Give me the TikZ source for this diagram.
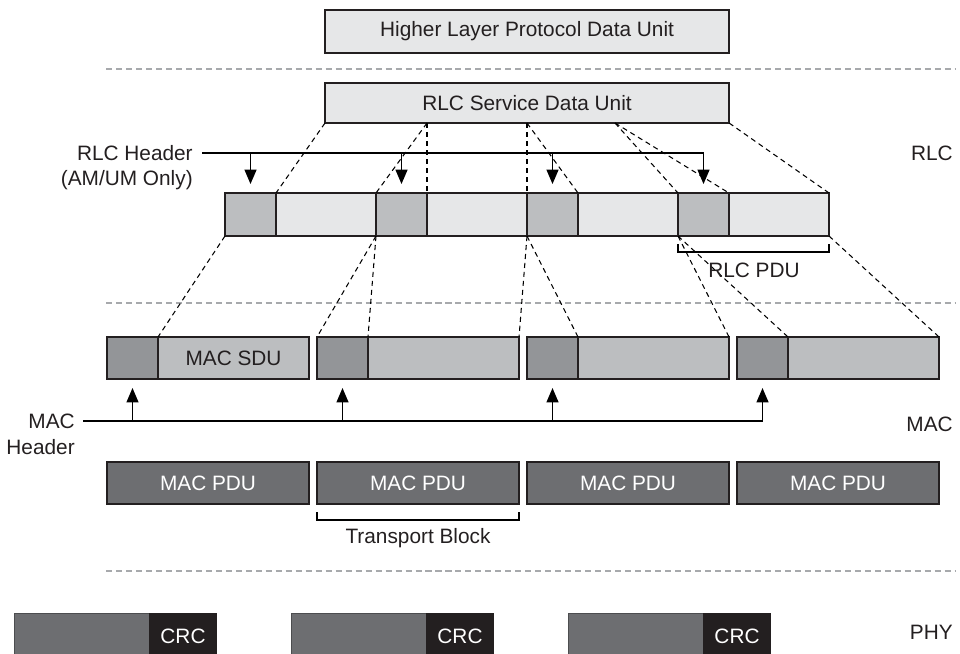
\documentclass[tikz,border=0pt]{standalone}
\usepackage{fontspec}
\setmainfont{Liberation Sans}
\usepackage{tikz}
\usetikzlibrary{arrows.meta,positioning}
\definecolor{rlclight}{HTML}{E6E7E8}
\definecolor{rlcmid}{HTML}{BCBEC0}
\definecolor{macdark}{HTML}{939598}
\definecolor{pdudark}{HTML}{6D6E71}
\definecolor{crcblack}{HTML}{231F20}
\definecolor{sepgray}{HTML}{A7A9AC}

\begin{document}
\begin{tikzpicture}[
  x=0.025cm, y=-0.025cm,
  >={Triangle[length=0.36cm,width=0.3cm]},
  every node/.style={font=\fontsize{14.8}{17.5}\selectfont, text=crcblack},
  blk/.style={draw=crcblack, line width=0.9pt, inner sep=0pt, outer sep=0pt, anchor=north west},
  topbox/.style={blk, fill=rlclight, minimum width=10.1cm},
  rlchead/.style={blk, fill=rlcmid, minimum width=1.275cm, minimum height=1.075cm},
  rlcdata/.style={blk, fill=rlclight, minimum width=2.5cm, minimum height=1.075cm},
  machead/.style={blk, fill=macdark, minimum width=1.275cm, minimum height=1.05cm},
  macdata/.style={blk, fill=rlcmid, minimum width=3.775cm, minimum height=1.05cm},
  pdubox/.style={blk, fill=pdudark, text=white, minimum width=5.05cm, minimum height=1.05cm},
  phybox/.style={blk, draw=pdudark!70!black, line width=0.4pt, fill=pdudark, minimum width=3.375cm, minimum height=1.175cm},
  crcbox/.style={blk, draw=none, fill=crcblack, text=white, minimum width=1.7cm, minimum height=1.175cm},
  layerlbl/.style={anchor=east, inner sep=0pt},
  layersep/.style={sepgray, line width=0.85pt, dash pattern=on 4.3pt off 2.8pt},
  mapline/.style={line width=0.75pt, dash pattern=on 3.6pt off 2.8pt},
  hdrline/.style={line width=0.9pt}
]
\useasboundingbox (0,0) rectangle (960,653);

% Layer separators
\draw[layersep] (106,69) -- (955,69);
\draw[layersep] (106,303) -- (955,303);
\draw[layersep] (106,571) -- (955,571);

% Higher layer and RLC SDU
\node[topbox, minimum height=1.075cm] (hlpdu) at (325,10) {Higher Layer Protocol Data Unit};
\node[topbox, minimum height=1.0cm] (sdu) at (325,83) {RLC Service Data Unit};
\coordinate (sdusplit) at (615,123);

% RLC PDUs
\node[rlchead] (rh1) at (225,193) {};
\node[rlcdata] (rd1) at (276,193) {};
\node[rlchead] (rh2) at (376,193) {};
\node[rlcdata] (rd2) at (427,193) {};
\node[rlchead] (rh3) at (527,193) {};
\node[rlcdata] (rd3) at (578,193) {};
\node[rlchead] (rh4) at (678,193) {};
\node[rlcdata] (rd4) at (729,193) {};

% MAC SDUs with headers
\node[machead] (mh1) at (107,337) {};
\node[macdata] (md1) at (158,337) {MAC SDU};
\node[machead] (mh2) at (317,337) {};
\node[macdata] (md2) at (368,337) {};
\node[machead] (mh3) at (527,337) {};
\node[macdata] (md3) at (578,337) {};
\node[machead] (mh4) at (737,337) {};
\node[macdata] (md4) at (788,337) {};

% MAC PDUs
\node[pdubox] (mp1) at (107,462) {MAC PDU};
\node[pdubox] (mp2) at (317,462) {MAC PDU};
\node[pdubox] (mp3) at (527,462) {MAC PDU};
\node[pdubox] (mp4) at (737,462) {MAC PDU};

% PHY blocks
\node[phybox] (py1) at (14,613) {};
\node[crcbox] (crc1) at (149,613) {CRC};
\node[phybox] (py2) at (291,613) {};
\node[crcbox] (crc2) at (426,613) {CRC};
\node[phybox] (py3) at (568,613) {};
\node[crcbox] (crc3) at (703,613) {CRC};

% Layer names
\node[layerlbl] (rlclbl) at (953,153) {RLC};
\node[layerlbl] (maclbl) at (953,424) {MAC};
\node[layerlbl] (phylbl) at (953,632) {PHY};

% Segmentation of the SDU
\draw[mapline] (sdu.south west) -- (rd1.north west);
\draw[mapline] (rd2.north west |- sdu.south) -- (rh2.north west);
\draw[mapline] (rd2.north west |- sdu.south) -- (rd2.north west);
\draw[mapline] (rh3.north west |- sdu.south) -- (rh3.north west);
\draw[mapline] (rh3.north west |- sdu.south) -- (rd3.north west);
\draw[mapline] (sdusplit) -- (rh4.north west);
\draw[mapline] (sdusplit) -- (rd4.north west);
\draw[mapline] (sdu.south east) -- (rd4.north east);

% RLC PDUs into MAC SDUs
\draw[mapline] (rh1.south west) -- (md1.north west);
\draw[mapline] (rh2.south west) -- (mh2.north west);
\draw[mapline] (rh2.south west) -- (md2.north west);
\draw[mapline] (rh3.south west) -- (md2.north east);
\draw[mapline] (rh3.south west) -- (md3.north west);
\draw[mapline] (rh4.south west) -- (md3.north east);
\draw[mapline] (rh4.south west) -- (md4.north west);
\draw[mapline] (rd4.south east) -- (md4.north east);

% RLC header arrows
\node[layerlbl, inner xsep=0.225cm] (rlchdr) at (202,153) {RLC Header};
\node[layerlbl] (amum) at (193,180) {(AM/UM Only)};
\draw[hdrline] (rlchdr.east) -- (rh4.north |- rlchdr.east);
\draw[hdrline, ->, shorten >=0.225cm] (rh1.north |- rlchdr.east) -- (rh1.north);
\draw[hdrline, ->, shorten >=0.225cm] (rh2.north |- rlchdr.east) -- (rh2.north);
\draw[hdrline, ->, shorten >=0.225cm] (rh3.north |- rlchdr.east) -- (rh3.north);
\draw[hdrline, ->, shorten >=0.225cm] (rh4.north |- rlchdr.east) -- (rh4.north);

% MAC header arrows
\node[layerlbl, inner xsep=0.2cm] (machdr) at (83,421) {MAC};
\node[layerlbl] (machdrb) at (75,447) {Header};
\draw[hdrline] (machdr.east) -- (mh4.south |- machdr.east);
\draw[hdrline, ->, shorten >=0.225cm] (mh1.south |- machdr.east) -- (mh1.south);
\draw[hdrline, ->, shorten >=0.225cm] (mh2.south |- machdr.east) -- (mh2.south);
\draw[hdrline, ->, shorten >=0.225cm] (mh3.south |- machdr.east) -- (mh3.south);
\draw[hdrline, ->, shorten >=0.225cm] (mh4.south |- machdr.east) -- (mh4.south);

% Brackets
\draw[hdrline] ([yshift=-0.2cm]rh4.south west) -- ([yshift=-0.4cm]rh4.south west)
  -- ([yshift=-0.4cm]rd4.south east) -- ([yshift=-0.2cm]rd4.south east);
\node (rlcpdu) at (754,270) {RLC PDU};
\draw[hdrline] ([yshift=-0.2cm]mp2.south west) -- ([yshift=-0.4cm]mp2.south west)
  -- ([yshift=-0.4cm]mp2.south east) -- ([yshift=-0.2cm]mp2.south east);
\node (tblock) at (418,538) {Transport Block};

\end{tikzpicture}
\end{document}
